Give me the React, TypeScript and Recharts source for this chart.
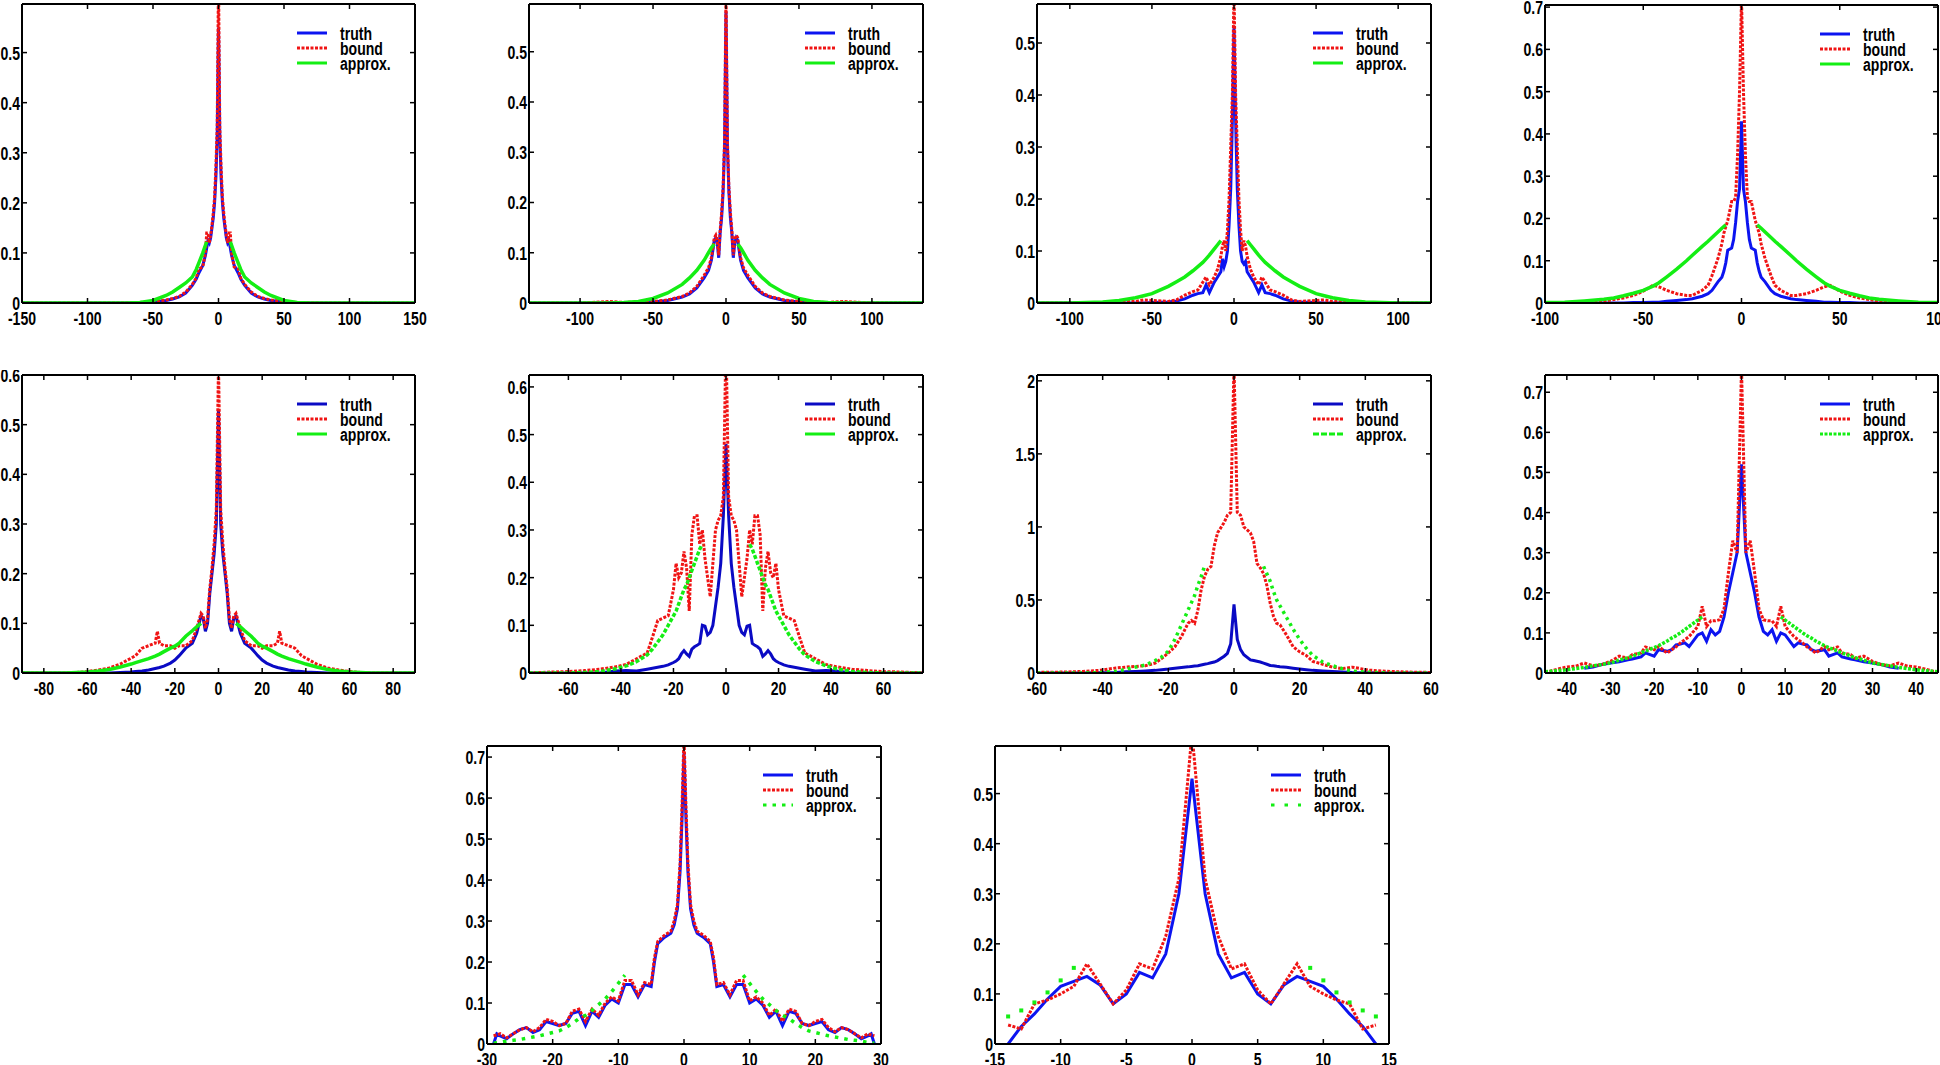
import React from "react";
import { LineChart, Line, XAxis, YAxis, Legend } from "recharts";

const BLUE = "#0c14f0";
const DARK_BLUE = "#0a0ac4";
const RED = "#f01414";
const GREEN = "#14ee14";
const FONT = "'Liberation Sans', Arial, Helvetica, sans-serif";

// ---- panel 1 ----
const p1X = [-150, -100, -70, -60, -50, -40, -35, -30, -25, -20, -17, -15, -12, -10, -9, -8, -7, -6, -5, -4, -3, -2, -1, 0, 1, 2, 3, 4, 5, 6, 7, 8, 9, 10, 12, 15, 17, 20, 25, 30, 35, 40, 50, 60, 70, 100, 150];
const p1Truth = [0, 0, 0, 0.0005, 0.002, 0.005, 0.008, 0.012, 0.02, 0.035, 0.048, 0.06, 0.075, 0.095, 0.11, 0.125, 0.12, 0.13, 0.15, 0.17, 0.2, 0.25, 0.33, 0.55, 0.33, 0.25, 0.2, 0.17, 0.15, 0.13, 0.12, 0.125, 0.11, 0.095, 0.075, 0.06, 0.048, 0.035, 0.02, 0.012, 0.008, 0.005, 0.002, 0.0005, 0, 0, 0];
const p1Bound = [0, 0, 0, 0.001, 0.003, 0.006, 0.009, 0.013, 0.022, 0.037, 0.05, 0.068, 0.072, 0.1, 0.14, 0.14, 0.12, 0.135, 0.155, 0.18, 0.21, 0.27, 0.35, 0.65, 0.35, 0.27, 0.21, 0.18, 0.155, 0.135, 0.12, 0.14, 0.14, 0.1, 0.072, 0.068, 0.05, 0.037, 0.022, 0.013, 0.009, 0.006, 0.003, 0.001, 0, 0, 0];
const p1Approx = [0, 0, 0, 0.001, 0.005, 0.015, 0.022, 0.031, 0.04, 0.052, 0.067, 0.08, 0.1, 0.115, 0.122, null, null, null, null, null, null, null, null, null, null, null, null, null, null, null, null, null, 0.122, 0.115, 0.1, 0.08, 0.067, 0.052, 0.04, 0.031, 0.022, 0.015, 0.005, 0.001, 0, 0, 0];
const p1XTicks = [-150, -100, -50, 0, 50, 100, 150];
const p1YTicks = [0, 0.1, 0.2, 0.3, 0.4, 0.5];

// ---- panel 2 ----
const p2X = [-135, -100, -80, -70, -60, -50, -40, -30, -25, -20, -15, -12, -10, -8, -7, -6, -5, -4, -3, -2, -1, 0, 1, 2, 3, 4, 5, 6, 7, 8, 10, 12, 15, 20, 25, 30, 40, 50, 60, 70, 80, 100, 135];
const p2Truth = [0, 0, 0.001, 0.001, 0.001, 0.002, 0.005, 0.012, 0.018, 0.03, 0.05, 0.065, 0.085, 0.125, 0.13, 0.12, 0.09, 0.14, 0.17, 0.22, 0.31, 0.58, 0.31, 0.22, 0.17, 0.14, 0.09, 0.12, 0.13, 0.125, 0.085, 0.065, 0.05, 0.03, 0.018, 0.012, 0.005, 0.002, 0.001, 0.001, 0.001, 0, 0];
const p2Bound = [0, 0, 0.003, 0.001, 0.002, 0.003, 0.006, 0.013, 0.02, 0.033, 0.055, 0.07, 0.09, 0.13, 0.135, 0.125, 0.095, 0.145, 0.18, 0.23, 0.32, 0.62, 0.32, 0.23, 0.18, 0.145, 0.095, 0.125, 0.135, 0.13, 0.09, 0.07, 0.055, 0.033, 0.02, 0.013, 0.006, 0.003, 0.002, 0.001, 0.003, 0, 0];
const p2Approx = [0, 0, 0, 0.001, 0.003, 0.009, 0.02, 0.037, 0.05, 0.065, 0.085, 0.1, 0.11, 0.117, null, null, null, null, null, null, null, null, null, null, null, null, null, null, null, 0.117, 0.11, 0.1, 0.085, 0.065, 0.05, 0.037, 0.02, 0.009, 0.003, 0.001, 0, 0, 0];
const p2XTicks = [-100, -50, 0, 50, 100];
const p2YTicks = [0, 0.1, 0.2, 0.3, 0.4, 0.5];

// ---- panel 3 ----
const p3X = [-120, -100, -80, -70, -60, -55, -50, -40, -35, -30, -25, -22, -19, -17, -15, -12, -10, -8, -7, -6, -5, -4, -3, -2, -1, 0, 1, 2, 3, 4, 5, 6, 7, 8, 10, 12, 15, 17, 19, 22, 25, 30, 35, 40, 50, 55, 60, 70, 80, 100, 120];
const p3Truth = [0, 0, 0, 0, 0, 0, 0.001, 0.002, 0.004, 0.008, 0.015, 0.018, 0.02, 0.035, 0.02, 0.04, 0.05, 0.06, 0.085, 0.07, 0.08, 0.1, 0.15, 0.22, 0.35, 0.53, 0.35, 0.22, 0.15, 0.1, 0.08, 0.075, 0.08, 0.06, 0.05, 0.04, 0.02, 0.035, 0.02, 0.018, 0.015, 0.008, 0.004, 0.002, 0.001, 0, 0, 0, 0, 0, 0];
const p3Bound = [0, 0, 0.001, 0.002, 0.003, 0.006, 0.005, 0.003, 0.006, 0.015, 0.022, 0.025, 0.04, 0.05, 0.035, 0.05, 0.065, 0.09, 0.11, 0.12, 0.1, 0.14, 0.2, 0.3, 0.4, 0.6, 0.4, 0.3, 0.2, 0.14, 0.1, 0.12, 0.11, 0.09, 0.065, 0.05, 0.035, 0.05, 0.04, 0.025, 0.022, 0.015, 0.006, 0.003, 0.005, 0.006, 0.003, 0.002, 0.001, 0, 0];
const p3Approx = [0, 0, 0.002, 0.005, 0.01, 0.014, 0.018, 0.032, 0.041, 0.05, 0.062, 0.07, 0.078, 0.085, 0.092, 0.104, 0.112, 0.12, null, null, null, null, null, null, null, null, null, null, null, null, null, null, null, 0.12, 0.112, 0.104, 0.092, 0.085, 0.078, 0.07, 0.062, 0.05, 0.041, 0.032, 0.018, 0.014, 0.01, 0.005, 0.002, 0, 0];
const p3XTicks = [-100, -50, 0, 50, 100];
const p3YTicks = [0, 0.1, 0.2, 0.3, 0.4, 0.5];

// ---- panel 4 ----
const p4X = [-100, -90, -80, -70, -65, -60, -55, -50, -45, -42, -38, -33, -28, -25, -20, -17, -15, -12, -10, -9, -8, -7, -5, -4, -3, -2, -1, 0, 1, 2, 3, 4, 5, 7, 8, 9, 10, 12, 15, 17, 20, 25, 28, 33, 38, 42, 45, 50, 55, 60, 65, 70, 80, 90, 100];
const p4Truth = [0, 0, 0, 0, 0, 0, 0.001, 0.001, 0.002, 0.002, 0.004, 0.006, 0.008, 0.01, 0.016, 0.022, 0.03, 0.05, 0.061, 0.075, 0.095, 0.125, 0.13, 0.15, 0.19, 0.24, 0.27, 0.43, 0.27, 0.24, 0.19, 0.15, 0.13, 0.125, 0.095, 0.075, 0.061, 0.05, 0.03, 0.022, 0.016, 0.01, 0.008, 0.006, 0.004, 0.002, 0.002, 0.001, 0.001, 0, 0, 0, 0, 0, 0];
const p4Bound = [0, 0, 0.001, 0.004, 0.008, 0.012, 0.018, 0.028, 0.042, 0.038, 0.03, 0.022, 0.018, 0.018, 0.03, 0.042, 0.065, 0.105, 0.14, 0.165, 0.18, 0.195, 0.24, 0.24, 0.25, 0.35, 0.5, 0.72, 0.5, 0.35, 0.25, 0.24, 0.24, 0.195, 0.18, 0.165, 0.14, 0.105, 0.065, 0.042, 0.03, 0.018, 0.018, 0.022, 0.03, 0.038, 0.042, 0.028, 0.018, 0.012, 0.008, 0.004, 0.001, 0, 0];
const p4Approx = [0.001, 0.002, 0.005, 0.009, 0.012, 0.017, 0.023, 0.03, 0.04, 0.048, 0.062, 0.08, 0.1, 0.113, 0.134, 0.146, 0.155, 0.168, 0.177, 0.181, 0.185, null, null, null, null, null, null, null, null, null, null, null, null, null, 0.185, 0.181, 0.177, 0.168, 0.155, 0.146, 0.134, 0.113, 0.1, 0.08, 0.062, 0.048, 0.04, 0.03, 0.023, 0.017, 0.012, 0.009, 0.005, 0.002, 0.001];
const p4XTicks = [-100, -50, 0, 50, 100];
const p4YTicks = [0, 0.1, 0.2, 0.3, 0.4, 0.5, 0.6, 0.7];

// ---- panel 5 ----
const p5X = [-90, -80, -70, -65, -60, -55, -50, -45, -40, -38, -35, -32, -29, -28, -27, -25, -22, -20, -18, -15, -12, -10, -8, -7, -6, -5, -4, -3, -2, -1, 0, 1, 2, 3, 4, 5, 6, 7, 8, 10, 12, 15, 18, 20, 22, 25, 27, 28, 29, 32, 35, 38, 40, 45, 50, 55, 60, 65, 70, 80, 90];
const p5Truth = [0, 0, 0, 0, 0, 0, 0, 0.001, 0.002, 0.003, 0.004, 0.006, 0.009, 0.01, 0.011, 0.014, 0.02, 0.026, 0.035, 0.05, 0.06, 0.08, 0.115, 0.11, 0.084, 0.1, 0.16, 0.2, 0.24, 0.3, 0.53, 0.3, 0.24, 0.2, 0.16, 0.1, 0.084, 0.11, 0.115, 0.08, 0.06, 0.05, 0.035, 0.026, 0.02, 0.014, 0.011, 0.01, 0.009, 0.006, 0.004, 0.003, 0.002, 0.001, 0, 0, 0, 0, 0, 0, 0];
const p5Bound = [0, 0, 0, 0.001, 0.003, 0.006, 0.01, 0.018, 0.03, 0.035, 0.05, 0.055, 0.06, 0.084, 0.06, 0.055, 0.055, 0.05, 0.055, 0.055, 0.065, 0.09, 0.12, 0.115, 0.09, 0.11, 0.17, 0.21, 0.26, 0.33, 0.62, 0.33, 0.26, 0.21, 0.17, 0.11, 0.09, 0.115, 0.12, 0.09, 0.065, 0.055, 0.055, 0.05, 0.055, 0.055, 0.06, 0.084, 0.06, 0.055, 0.05, 0.035, 0.03, 0.018, 0.01, 0.006, 0.003, 0.001, 0, 0, 0];
const p5Approx = [0, 0, 0, 0.001, 0.002, 0.004, 0.007, 0.012, 0.018, 0.021, 0.025, 0.029, 0.034, 0.036, 0.038, 0.043, 0.05, 0.054, 0.06, 0.074, 0.085, 0.093, 0.1, null, null, null, null, null, null, null, null, null, null, null, null, null, null, null, 0.1, 0.093, 0.085, 0.074, 0.06, 0.054, 0.05, 0.043, 0.038, 0.036, 0.034, 0.029, 0.025, 0.021, 0.018, 0.012, 0.007, 0.004, 0.002, 0.001, 0, 0, 0];
const p5XTicks = [-80, -60, -40, -20, 0, 20, 40, 60, 80];
const p5YTicks = [0, 0.1, 0.2, 0.3, 0.4, 0.5, 0.6];

// ---- panel 6 ----
const p6X = [-75, -67, -60, -54, -48, -42, -38, -34, -30, -28, -26, -24, -22, -20, -19, -18, -17, -16, -15, -14, -13, -12, -11, -10, -9, -8, -7, -6, -5, -4, -3, -2, -1, 0, 1, 2, 3, 4, 5, 6, 7, 8, 9, 10, 11, 12, 13, 14, 15, 16, 17, 18, 19, 20, 22, 24, 26, 28, 30, 34, 38, 42, 48, 54, 60, 67, 75];
const p6Truth = [0, 0, 0, 0, 0, 0.004, 0.005, 0.004, 0.008, 0.01, 0.012, 0.014, 0.017, 0.022, 0.025, 0.03, 0.04, 0.047, 0.04, 0.035, 0.05, 0.055, 0.058, 0.062, 0.1, 0.098, 0.08, 0.085, 0.1, 0.14, 0.18, 0.23, 0.33, 0.48, 0.33, 0.23, 0.18, 0.14, 0.1, 0.085, 0.08, 0.098, 0.1, 0.062, 0.058, 0.055, 0.05, 0.035, 0.04, 0.047, 0.04, 0.03, 0.025, 0.022, 0.017, 0.014, 0.012, 0.01, 0.008, 0.004, 0.005, 0.004, 0, 0, 0, 0, 0];
const p6Bound = [0, 0.002, 0.003, 0.005, 0.008, 0.013, 0.018, 0.03, 0.042, 0.075, 0.11, 0.115, 0.12, 0.175, 0.23, 0.2, 0.21, 0.255, 0.22, 0.13, 0.29, 0.33, 0.33, 0.27, 0.3, 0.24, 0.2, 0.16, 0.23, 0.3, 0.32, 0.33, 0.37, 0.7, 0.37, 0.33, 0.32, 0.3, 0.23, 0.16, 0.2, 0.24, 0.3, 0.27, 0.33, 0.33, 0.29, 0.13, 0.22, 0.255, 0.21, 0.2, 0.23, 0.175, 0.12, 0.115, 0.11, 0.075, 0.042, 0.03, 0.018, 0.013, 0.008, 0.005, 0.003, 0.002, 0];
const p6Approx = [0, 0, 0, 0.001, 0.003, 0.009, 0.015, 0.024, 0.038, 0.05, 0.065, 0.08, 0.1, 0.12, 0.13, 0.145, 0.16, 0.175, 0.185, 0.2, 0.215, 0.23, 0.245, 0.26, 0.27, null, null, null, null, null, null, null, null, null, null, null, null, null, null, null, null, null, 0.27, 0.26, 0.245, 0.23, 0.215, 0.2, 0.185, 0.175, 0.16, 0.145, 0.13, 0.12, 0.1, 0.08, 0.065, 0.05, 0.038, 0.024, 0.015, 0.009, 0.003, 0.001, 0, 0, 0];
const p6XTicks = [-60, -40, -20, 0, 20, 40, 60];
const p6YTicks = [0, 0.1, 0.2, 0.3, 0.4, 0.5, 0.6];

// ---- panel 7 ----
const p7X = [-60, -56, -51, -46, -41, -36, -33, -30, -27, -24, -22, -20, -18, -16, -14, -13, -12, -11, -10, -9, -8, -7, -6, -5, -3, -2, -1, 0, 1, 2, 3, 5, 6, 7, 8, 9, 10, 11, 12, 13, 14, 16, 18, 20, 22, 24, 27, 30, 33, 36, 41, 46, 51, 56, 60];
const p7Truth = [0, 0, 0, 0, 0.002, 0.004, 0.008, 0.011, 0.014, 0.018, 0.023, 0.027, 0.032, 0.038, 0.042, 0.045, 0.048, 0.05, 0.055, 0.06, 0.064, 0.07, 0.075, 0.085, 0.115, 0.135, 0.2, 0.47, 0.23, 0.16, 0.125, 0.09, 0.085, 0.08, 0.075, 0.068, 0.06, 0.052, 0.05, 0.046, 0.043, 0.04, 0.033, 0.027, 0.022, 0.018, 0.014, 0.011, 0.007, 0.003, 0.001, 0, 0, 0, 0];
const p7Bound = [0.004, 0.005, 0.007, 0.011, 0.018, 0.034, 0.04, 0.045, 0.05, 0.068, 0.1, 0.137, 0.18, 0.25, 0.34, 0.36, 0.34, 0.43, 0.57, 0.66, 0.71, 0.73, 0.87, 0.96, 1.03, 1.08, 1.1, 2.1, 1.1, 1.08, 1.0, 0.96, 0.9, 0.75, 0.72, 0.68, 0.6, 0.48, 0.39, 0.34, 0.33, 0.26, 0.18, 0.145, 0.12, 0.08, 0.06, 0.04, 0.03, 0.04, 0.02, 0.012, 0.008, 0.005, 0.004];
const p7Approx = [0, 0, 0, 0, 0.003, 0.011, 0.025, 0.04, 0.055, 0.085, 0.11, 0.15, 0.23, 0.33, 0.43, 0.48, 0.53, 0.6, 0.66, 0.73, null, null, null, null, null, null, null, null, null, null, null, null, null, null, null, 0.73, 0.68, 0.63, 0.56, 0.5, 0.46, 0.38, 0.3, 0.23, 0.17, 0.12, 0.075, 0.05, 0.03, 0.012, 0.005, 0.001, 0, 0, 0];
const p7XTicks = [-60, -40, -20, 0, 20, 40, 60];
const p7YTicks = [0, 0.5, 1, 1.5, 2];

// ---- panel 8 ----
const p8X = [-45, -44, -42, -40, -38, -36, -34, -32, -30, -28, -26, -25, -23, -22, -20, -19, -17, -16, -15, -14, -13, -12, -10, -9, -8, -7, -6, -5, -4, -3, -2, -1, 0, 1, 2, 3, 4, 5, 6, 7, 8, 9, 10, 12, 13, 14, 15, 16, 17, 19, 20, 22, 23, 25, 26, 28, 30, 32, 34, 36, 38, 40, 42, 44, 45];
const p8Truth = [null, null, null, null, null, 0.012, 0.015, 0.021, 0.025, 0.028, 0.033, 0.035, 0.04, 0.05, 0.042, 0.058, 0.054, 0.058, 0.07, 0.072, 0.075, 0.066, 0.095, 0.1, 0.079, 0.108, 0.095, 0.104, 0.14, 0.2, 0.25, 0.3, 0.52, 0.3, 0.25, 0.2, 0.14, 0.104, 0.095, 0.108, 0.079, 0.1, 0.095, 0.066, 0.075, 0.072, 0.07, 0.058, 0.054, 0.058, 0.042, 0.05, 0.04, 0.035, 0.033, 0.028, 0.025, 0.021, 0.015, 0.012, null, null, null, null, null];
const p8Bound = [0.003, 0.004, 0.01, 0.015, 0.017, 0.025, 0.018, 0.021, 0.029, 0.042, 0.037, 0.046, 0.05, 0.065, 0.058, 0.066, 0.05, 0.058, 0.065, 0.075, 0.083, 0.091, 0.116, 0.166, 0.116, 0.13, 0.13, 0.133, 0.16, 0.25, 0.33, 0.3, 0.76, 0.3, 0.33, 0.25, 0.16, 0.133, 0.13, 0.13, 0.116, 0.166, 0.116, 0.091, 0.083, 0.075, 0.065, 0.058, 0.05, 0.066, 0.058, 0.065, 0.05, 0.046, 0.037, 0.042, 0.029, 0.021, 0.018, 0.025, 0.017, 0.015, 0.01, 0.004, 0.003];
const p8Approx = [0.003, 0.004, 0.006, 0.008, 0.011, 0.014, 0.018, 0.021, 0.025, 0.032, 0.038, 0.042, 0.05, 0.055, 0.063, 0.068, 0.08, 0.087, 0.093, 0.1, 0.108, 0.116, 0.132, 0.14, null, null, null, null, null, null, null, null, null, null, null, null, null, null, null, null, null, 0.14, 0.132, 0.116, 0.108, 0.1, 0.093, 0.087, 0.08, 0.068, 0.063, 0.055, 0.05, 0.042, 0.038, 0.032, 0.025, 0.021, 0.018, 0.014, 0.011, 0.008, 0.006, 0.004, 0.003];
const p8XTicks = [-40, -30, -20, -10, 0, 10, 20, 30, 40];
const p8YTicks = [0, 0.1, 0.2, 0.3, 0.4, 0.5, 0.6, 0.7];

// ---- panel 9 ----
const p9X = [-30, -29, -28.5, -28, -27, -26, -25, -24, -23, -22, -21, -20, -19, -18, -17, -16, -15, -14, -13, -12, -11, -10, -9, -8, -7, -6, -5, -4.5, -4, -3, -2, -1.5, -1, -0.6, -0.3, 0, 0.3, 0.6, 1, 1.5, 2, 3, 4, 4.5, 5, 6, 7, 8, 9, 10, 11, 12, 13, 14, 15, 16, 17, 18, 19, 20, 21, 22, 23, 24, 25, 26, 27, 28, 28.5, 29, 30];
const p9Truth = [null, 0, 0.025, 0.02, 0.013, 0.025, 0.035, 0.04, 0.028, 0.035, 0.055, 0.05, 0.045, 0.05, 0.075, 0.08, 0.045, 0.08, 0.065, 0.095, 0.11, 0.1, 0.145, 0.145, 0.115, 0.145, 0.14, 0.2, 0.245, 0.26, 0.27, 0.29, 0.33, 0.42, 0.55, 0.71, 0.55, 0.42, 0.33, 0.29, 0.27, 0.26, 0.245, 0.2, 0.14, 0.145, 0.115, 0.145, 0.145, 0.1, 0.11, 0.095, 0.065, 0.08, 0.045, 0.08, 0.075, 0.05, 0.045, 0.05, 0.055, 0.035, 0.028, 0.04, 0.035, 0.025, 0.013, 0.02, 0.025, 0, null];
const p9Bound = [null, 0.02, 0.022, 0.025, 0.015, 0.025, 0.035, 0.04, 0.03, 0.04, 0.06, 0.055, 0.045, 0.05, 0.08, 0.085, 0.055, 0.085, 0.07, 0.1, 0.115, 0.105, 0.155, 0.155, 0.12, 0.15, 0.145, 0.21, 0.25, 0.265, 0.275, 0.3, 0.34, 0.44, 0.58, 0.75, 0.58, 0.44, 0.34, 0.3, 0.275, 0.265, 0.25, 0.21, 0.145, 0.15, 0.12, 0.155, 0.155, 0.105, 0.115, 0.1, 0.07, 0.085, 0.055, 0.085, 0.08, 0.05, 0.045, 0.055, 0.06, 0.04, 0.03, 0.04, 0.035, 0.025, 0.015, 0.025, 0.022, 0.02, null];
const p9Approx = [null, 0.002, 0.003, 0.004, 0.007, 0.009, 0.011, 0.014, 0.017, 0.02, 0.024, 0.028, 0.032, 0.04, 0.05, 0.062, 0.07, 0.082, 0.096, 0.11, 0.128, 0.148, 0.168, null, null, null, null, null, null, null, null, null, null, null, null, null, null, null, null, null, null, null, null, null, null, null, null, null, 0.168, 0.148, 0.128, 0.11, 0.096, 0.082, 0.07, 0.062, 0.05, 0.04, 0.032, 0.028, 0.024, 0.02, 0.017, 0.014, 0.011, 0.009, 0.007, 0.004, 0.003, 0.002, null];
const p9XTicks = [-30, -20, -10, 0, 10, 20, 30];
const p9YTicks = [0, 0.1, 0.2, 0.3, 0.4, 0.5, 0.6, 0.7];

// ---- panel 10 ----
const p10X = [-14, -13, -12, -11, -10, -9, -8, -7, -6, -5, -4, -3, -2, -1, 0, 1, 2, 3, 4, 5, 6, 7, 8, 9, 10, 11, 12, 13, 14];
const p10Truth = [0, 0.035, 0.06, 0.09, 0.115, 0.125, 0.135, 0.118, 0.08, 0.1, 0.143, 0.132, 0.18, 0.3, 0.53, 0.3, 0.18, 0.132, 0.143, 0.1, 0.08, 0.118, 0.135, 0.125, 0.115, 0.09, 0.06, 0.035, 0];
const p10Bound = [0.038, 0.03, 0.08, 0.088, 0.1, 0.115, 0.16, 0.12, 0.08, 0.108, 0.16, 0.15, 0.215, 0.33, 0.62, 0.33, 0.215, 0.15, 0.16, 0.108, 0.08, 0.12, 0.16, 0.115, 0.1, 0.088, 0.08, 0.03, 0.038];
const p10Approx = [0.055, 0.067, 0.083, 0.103, 0.127, 0.152, null, null, null, null, null, null, null, null, null, null, null, null, null, null, null, null, null, 0.152, 0.127, 0.103, 0.083, 0.067, 0.055];
const p10XTicks = [-15, -10, -5, 0, 5, 10, 15];
const p10YTicks = [0, 0.1, 0.2, 0.3, 0.4, 0.5];

const BOUND_DASH = "3 1.5";

// box = [left, right, top, bottom] of the plot frame on the page
const panels = [
  { box: [22, 415, 4, 303], xDomain: [-150, 150], yMax: 0.597, xTicks: p1XTicks, yTicks: p1YTicks, x: p1X, truth: p1Truth, bound: p1Bound, approx: p1Approx },
  { box: [529, 923, 4, 303], xDomain: [-135, 135], yMax: 0.595, xTicks: p2XTicks, yTicks: p2YTicks, x: p2X, truth: p2Truth, bound: p2Bound, approx: p2Approx },
  { box: [1037, 1431, 4, 303], xDomain: [-120, 120], yMax: 0.575, xTicks: p3XTicks, yTicks: p3YTicks, x: p3X, truth: p3Truth, bound: p3Bound, approx: p3Approx },
  { box: [1545, 1938, 5, 303], xDomain: [-100, 100], yMax: 0.705, xTicks: p4XTicks, yTicks: p4YTicks, x: p4X, truth: p4Truth, bound: p4Bound, approx: p4Approx },
  { box: [22, 415, 375, 673], xDomain: [-90, 90], yMax: 0.6, xTicks: p5XTicks, yTicks: p5YTicks, x: p5X, truth: p5Truth, bound: p5Bound, approx: p5Approx, blue: DARK_BLUE },
  { box: [529, 923, 375, 673], xDomain: [-75, 75], yMax: 0.625, xTicks: p6XTicks, yTicks: p6YTicks, x: p6X, truth: p6Truth, bound: p6Bound, approx: p6Approx, approxDash: "4 2", blue: DARK_BLUE },
  { box: [1037, 1431, 375, 673], xDomain: [-60, 60], yMax: 2.04, xTicks: p7XTicks, yTicks: p7YTicks, x: p7X, truth: p7Truth, bound: p7Bound, approx: p7Approx, approxDash: "3 4", legendDash: "6 2", blue: DARK_BLUE },
  { box: [1545, 1938, 375, 673], xDomain: [-45, 45], yMax: 0.743, xTicks: p8XTicks, yTicks: p8YTicks, x: p8X, truth: p8Truth, bound: p8Bound, approx: p8Approx, approxDash: "3 1.5", legendDash: "3 1.5" },
  { box: [487, 881, 746, 1044], xDomain: [-30, 30], yMax: 0.727, xTicks: p9XTicks, yTicks: p9YTicks, x: p9X, truth: p9Truth, bound: p9Bound, approx: p9Approx, approxDash: "3.5 6", legendDash: "3.5 6" },
  { box: [995, 1389, 746, 1044], xDomain: [-15, 15], yMax: 0.595, xTicks: p10XTicks, yTicks: p10YTicks, x: p10X, truth: p10Truth, bound: p10Bound, approx: p10Approx, approxDots: true, legendDash: "3.5 10" },
];

// condensed bold labels, like the Helvetica-Narrow of the original figure
function NarrowText({ x, y, anchor, children }: { x: number; y: number; anchor?: string; children: any }) {
  return (
    <text
      transform={`translate(${x},${y}) scale(0.74,1)`}
      textAnchor={anchor || "start"}
      fontFamily={FONT}
      fontSize={19}
      fontWeight={700}
      fill="#000"
    >
      {children}
    </text>
  );
}

const bottomTick = (p: any) => (
  <g>
    <line x1={p.x} y1={p.y} x2={p.x} y2={p.y - 5} stroke="#000" strokeWidth={1.5} />
    <NarrowText x={p.x} y={p.y + 22} anchor="middle">{p.payload.value}</NarrowText>
  </g>
);
const topTick = (p: any) => <line x1={p.x} y1={p.y} x2={p.x} y2={p.y + 5} stroke="#000" strokeWidth={1.5} />;
const leftTick = (p: any) => (
  <g>
    <line x1={p.x} y1={p.y} x2={p.x + 5} y2={p.y} stroke="#000" strokeWidth={1.5} />
    <NarrowText x={p.x - 2} y={p.y + 7} anchor="end">{p.payload.value}</NarrowText>
  </g>
);
const rightTick = (p: any) => <line x1={p.x} y1={p.y} x2={p.x - 5} y2={p.y} stroke="#000" strokeWidth={1.5} />;

const squareDot = (p: any) => {
  if (p.cx == null || p.cy == null || p.value == null) return <g key={`sd${p.index}`} />;
  return <rect key={`sd${p.index}`} x={p.cx - 2} y={p.cy - 2} width={4} height={4} fill={GREEN} />;
};

function LegendBox({ legendDash, blue }: { legendDash?: string; blue: string }) {
  const items = [
    { name: "truth", color: blue, dash: undefined as string | undefined },
    { name: "bound", color: RED, dash: BOUND_DASH },
    { name: "approx.", color: GREEN, dash: legendDash },
  ];
  return (
    <svg width={120} height={50} style={{ display: "block" }}>
      {items.map((it, i) => (
        <g key={it.name}>
          <line x1={2} x2={32} y1={9 + i * 15} y2={9 + i * 15} stroke={it.color} strokeWidth={3} strokeDasharray={it.dash} />
          <NarrowText x={45} y={16 + i * 15}>{it.name}</NarrowText>
        </g>
      ))}
    </svg>
  );
}

function Panel({ cfg }: { cfg: any }) {
  const [L, R, T, B] = cfg.box;
  const pw = R - L;
  const ph = B - T;
  const W = pw + 65;
  const H = ph + 35;
  const blue = cfg.blue || BLUE;
  const rows = cfg.x.map((x: number, i: number) => ({
    x,
    truth: cfg.truth[i],
    bound: cfg.bound[i],
    approx: cfg.approx[i],
  }));
  const frame = { stroke: "#000", strokeWidth: 2 };
  return (
    <div style={{ position: "absolute", left: L - 45, top: T - 5, width: W, height: H }}>
      <LineChart width={W} height={H} data={rows} margin={{ top: 4, right: 19, bottom: 0, left: 5 }}>
        <XAxis dataKey="x" type="number" domain={cfg.xDomain} ticks={cfg.xTicks} interval={0} allowDataOverflow height={30} tickSize={0} tickMargin={0} tickLine={false} axisLine={frame} tick={bottomTick} />
        <XAxis xAxisId="top" orientation="top" dataKey="x" type="number" domain={cfg.xDomain} ticks={cfg.xTicks} interval={0} allowDataOverflow height={1} tickSize={0} tickMargin={0} tickLine={false} axisLine={frame} tick={topTick} />
        <YAxis type="number" domain={[0, cfg.yMax]} ticks={cfg.yTicks} interval={0} allowDataOverflow width={40} tickSize={0} tickMargin={0} tickLine={false} axisLine={frame} tick={leftTick} />
        <YAxis yAxisId="right" orientation="right" type="number" domain={[0, cfg.yMax]} ticks={cfg.yTicks} interval={0} allowDataOverflow width={1} tickSize={0} tickMargin={0} tickLine={false} axisLine={frame} tick={rightTick} />
        <Line type="linear" dataKey="truth" stroke={blue} strokeWidth={3} dot={false} activeDot={false} isAnimationActive={false} />
        <Line type="linear" dataKey="bound" stroke={RED} strokeWidth={3} strokeDasharray={BOUND_DASH} dot={false} activeDot={false} isAnimationActive={false} />
        {cfg.approxDots ? (
          <Line type="linear" dataKey="approx" stroke="none" strokeWidth={0} dot={squareDot} activeDot={false} isAnimationActive={false} />
        ) : (
          <Line type="linear" dataKey="approx" stroke={GREEN} strokeWidth={3.5} strokeDasharray={cfg.approxDash} dot={false} activeDot={false} isAnimationActive={false} />
        )}
        <Legend
          layout="vertical"
          align="center"
          verticalAlign="middle"
          wrapperStyle={{ left: 45 + pw - 120, top: 25, width: 120, height: 50 }}
          content={() => <LegendBox legendDash={cfg.legendDash} blue={blue} />}
        />
      </LineChart>
    </div>
  );
}

export default function App() {
  return (
    <div style={{ position: "absolute", left: 0, top: 0, width: 1940, height: 1065, background: "#fff", overflow: "hidden" }}>
      {panels.map((cfg, i) => (
        <Panel key={i} cfg={cfg} />
      ))}
    </div>
  );
}
